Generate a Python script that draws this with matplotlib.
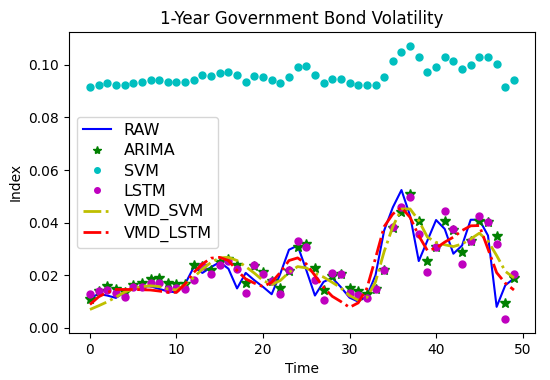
import numpy as np
import matplotlib
matplotlib.use("Agg")
import matplotlib.pyplot as plt

# ---------------------------------------------------------------------------
# Data
# ---------------------------------------------------------------------------
time = np.arange(50)

raw = [0.0113, 0.0129, 0.0123, 0.0114, 0.0135, 0.0148, 0.0157, 0.0158, 0.0148, 0.0139,
       0.0135, 0.0167, 0.0231, 0.0209, 0.0231, 0.0250, 0.0225, 0.0150, 0.0209, 0.0181,
       0.0156, 0.0128, 0.0206, 0.0297, 0.0313, 0.0220, 0.0123, 0.0175, 0.0190, 0.0155,
       0.0115, 0.0100, 0.0120, 0.0200, 0.0370, 0.0458, 0.0524, 0.0426, 0.0254, 0.0332,
       0.0410, 0.0376, 0.0282, 0.0313, 0.0411, 0.0411, 0.0351, 0.0080, 0.0162, 0.0188]

arima = [0.0108, 0.0141, 0.0158, 0.0146, 0.0137, 0.0162, 0.0171, 0.0184, 0.0190, 0.0171,
         0.0168, 0.0166, 0.0238, 0.0235, 0.0221, 0.0250, 0.0263, 0.0240, 0.0171, 0.0234,
         0.0213, 0.0179, 0.0150, 0.0216, 0.0307, 0.0317, 0.0229, 0.0143, 0.0196, 0.0204,
         0.0150, 0.0141, 0.0129, 0.0146, 0.0219, 0.0380, 0.0440, 0.0508, 0.0405, 0.0254,
         0.0307, 0.0405, 0.0372, 0.0288, 0.0332, 0.0405, 0.0401, 0.0351, 0.0095, 0.0188]

svm = [0.0915, 0.0925, 0.0930, 0.0925, 0.0925, 0.0930, 0.0935, 0.0941, 0.0941, 0.0935,
       0.0935, 0.0935, 0.0941, 0.0962, 0.0958, 0.0968, 0.0973, 0.0962, 0.0935, 0.0957,
       0.0953, 0.0942, 0.0932, 0.0954, 0.0990, 0.0995, 0.0962, 0.0930, 0.0947, 0.0947,
       0.0930, 0.0925, 0.0922, 0.0925, 0.0952, 0.1014, 0.1047, 0.1073, 0.1030, 0.0972,
       0.0990, 0.1030, 0.1014, 0.0984, 0.1000, 0.1030, 0.1030, 0.1004, 0.0915, 0.0942]

lstm = [0.0128, 0.0141, 0.0145, 0.0132, 0.0118, 0.0156, 0.0156, 0.0171, 0.0171, 0.0149,
        0.0150, 0.0149, 0.0181, 0.0237, 0.0204, 0.0238, 0.0256, 0.0225, 0.0133, 0.0238,
        0.0206, 0.0178, 0.0128, 0.0219, 0.0329, 0.0306, 0.0181, 0.0106, 0.0210, 0.0204,
        0.0133, 0.0125, 0.0112, 0.0146, 0.0219, 0.0385, 0.0460, 0.0497, 0.0357, 0.0212,
        0.0307, 0.0443, 0.0374, 0.0244, 0.0332, 0.0426, 0.0401, 0.0317, 0.0033, 0.0206]

vmd_svm = [0.0070, 0.0084, 0.0099, 0.0117, 0.0136, 0.0148, 0.0157, 0.0160, 0.0157, 0.0148,
           0.0144, 0.0165, 0.0192, 0.0224, 0.0249, 0.0266, 0.0268, 0.0256, 0.0233, 0.0208,
           0.0180, 0.0165, 0.0180, 0.0211, 0.0233, 0.0228, 0.0208, 0.0193, 0.0173, 0.0152,
           0.0123, 0.0105, 0.0115, 0.0175, 0.0290, 0.0385, 0.0452, 0.0452, 0.0408, 0.0345,
           0.0325, 0.0316, 0.0309, 0.0319, 0.0338, 0.0360, 0.0330, 0.0275, 0.0215, 0.0190]

vmd_lstm = [0.0089, 0.0118, 0.0135, 0.0146, 0.0146, 0.0146, 0.0145, 0.0144, 0.0140, 0.0135,
            0.0135, 0.0167, 0.0211, 0.0243, 0.0265, 0.0268, 0.0256, 0.0218, 0.0186, 0.0170,
            0.0157, 0.0173, 0.0211, 0.0256, 0.0266, 0.0243, 0.0199, 0.0154, 0.0120, 0.0100,
            0.0078, 0.0095, 0.0150, 0.0265, 0.0385, 0.0433, 0.0458, 0.0420, 0.0350, 0.0294,
            0.0303, 0.0326, 0.0345, 0.0370, 0.0388, 0.0389, 0.0300, 0.0210, 0.0170, 0.0144]

# ---------------------------------------------------------------------------
# Plot
# ---------------------------------------------------------------------------
fig = plt.figure(figsize=(5.5, 3.8), dpi=100)
ax = fig.add_axes([0.125, 0.124, 0.848, 0.792])

ax.plot(time, raw, "b-", lw=1.5, label="RAW")
ax.plot(time, arima, "g*", ms=7.5, label="ARIMA")
ax.plot(time, svm, "co", ms=5, label="SVM")
ax.plot(time, lstm, "mo", ms=5, label="LSTM")
ax.plot(time, vmd_svm, "y-.", lw=2, label="VMD_SVM")
ax.plot(time, vmd_lstm, "r-.", lw=2, label="VMD_LSTM")

ax.set_title("1-Year Government Bond Volatility")
ax.set_xlabel("Time")
ax.set_ylabel("Index")
ax.legend(loc="center left", fontsize=11.5, handlelength=1.75,
          labelspacing=0.33, markerscale=0.8)

fig.savefig("out.png", dpi=100)
